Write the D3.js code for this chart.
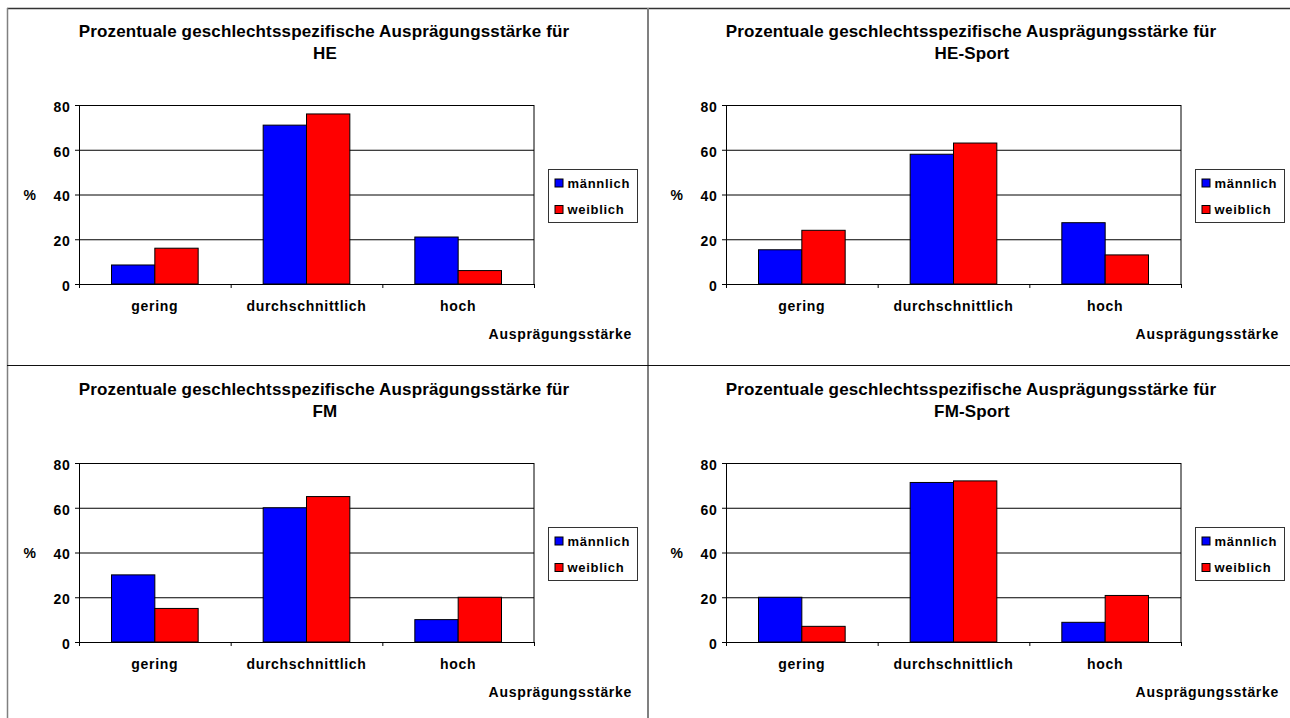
<!DOCTYPE html>
<html>
<head>
<meta charset="utf-8">
<script src="https://cdn.jsdelivr.net/npm/d3@7"></script>
<style>
  html, body { margin: 0; padding: 0; background: #fff; }
  svg { display: block; }
  text { font-family: "Liberation Sans", Arial, sans-serif; font-weight: bold; fill: #000; }
</style>
</head>
<body>
<svg id="chart" width="1290" height="718"></svg>
<script>
// ---- data ----
const categories = ["gering", "durchschnittlich", "hoch"];
const seriesNames = ["männlich", "weiblich"];
const seriesColors = ["#0000FF", "#FF0000"];
const yTicks = [0, 20, 40, 60, 80];
const titlePrefix = "Prozentuale geschlechtsspezifische Ausprägungsstärke für";
const panelNames = ["HE", "HE-Sport", "FM", "FM-Sport"];
const heMaennlich = [8.5, 71, 21];
const heWeiblich = [16, 76, 6];
const heSportMaennlich = [15.3, 58, 27.4];
const heSportWeiblich = [24, 63, 13];
const fmMaennlich = [30, 60, 10];
const fmWeiblich = [15, 65, 20];
const fmSportMaennlich = [20, 71.3, 8.8];
const fmSportWeiblich = [7, 72, 20.8];
const xAxisTitle = "Ausprägungsstärke";
const yAxisTitle = "%";

const panelValues = [
  [heMaennlich, heWeiblich],
  [heSportMaennlich, heSportWeiblich],
  [fmMaennlich, fmWeiblich],
  [fmSportMaennlich, fmSportWeiblich]
];

const svg = d3.select("#chart");

// panel frame lines
const frame = svg.append("g");
frame.append("line").attr("x1", 7).attr("x2", 1290).attr("y1", 8.5).attr("y2", 8.5)
  .attr("stroke", "#333").attr("stroke-width", 1.5);
frame.append("line").attr("x1", 7.5).attr("x2", 7.5).attr("y1", 8).attr("y2", 718)
  .attr("stroke", "#808080").attr("stroke-width", 1.5);
frame.append("line").attr("x1", 648).attr("x2", 648).attr("y1", 8).attr("y2", 718)
  .attr("stroke", "#808080").attr("stroke-width", 2);
frame.append("line").attr("x1", 7).attr("x2", 1290).attr("y1", 365.5).attr("y2", 365.5)
  .attr("stroke", "#111").attr("stroke-width", 1);

const PW = 647, PH = 358;

panelNames.forEach((name, i) => {
  const col = i % 2, row = Math.floor(i / 2);
  const ox = col * PW, oy = row * PH;
  const g = svg.append("g").attr("transform", `translate(${ox},${oy})`);

  const left = 79, right = 534, top = 105, bottom = 284;
  const x = d3.scaleBand().domain(categories).range([left, right]).padding(0);
  const bw = x.bandwidth();
  const groupW = bw * 2 / 3.5;
  const xs = d3.scaleBand().domain(seriesNames).range([(bw - groupW) / 2, (bw + groupW) / 2]).padding(0);
  const y = d3.scaleLinear().domain([0, 80]).range([bottom, top]);
  const xb = d3.scaleLinear().domain([0, categories.length]).range([left, right]);

  // title
  const t = g.append("text").attr("text-anchor", "middle").style("font-size", "17px")
    .style("letter-spacing", "0.15px");
  t.append("tspan").attr("x", 324).attr("y", 36.7).text(titlePrefix);
  t.append("tspan").attr("x", 325).attr("y", 59.3).text(name);

  // gridlines
  g.append("g").attr("transform", `translate(${left},0)`)
    .call(d3.axisLeft(y).tickValues(yTicks.filter(v => v > 0)).tickSize(-(right - left)).tickFormat(""))
    .call(s => s.select(".domain").remove())
    .call(s => s.selectAll("line").attr("stroke", "#000").attr("stroke-width", 1));

  // right border of plot area
  g.append("line").attr("x1", right).attr("x2", right).attr("y1", top).attr("y2", bottom)
    .attr("stroke", "#000");

  // bars
  const vals = panelValues[i];
  const data = [];
  categories.forEach((c, ci) => seriesNames.forEach((s, si) => data.push({ c, s, si, v: vals[si][ci] })));
  g.append("g").selectAll("rect").data(data).join("rect")
    .attr("x", d => x(d.c) + xs(d.s))
    .attr("width", xs.bandwidth())
    .attr("y", d => y(d.v))
    .attr("height", d => y(0) - y(d.v))
    .attr("fill", d => seriesColors[d.si])
    .attr("stroke", "#000").attr("stroke-width", 1);

  // y axis
  g.append("g").attr("transform", `translate(${left},0)`)
    .call(d3.axisLeft(y).tickValues(yTicks).tickSize(4).tickSizeOuter(0).tickPadding(4.5))
    .call(s => s.select(".domain").attr("stroke", "#000"))
    .call(s => s.selectAll("line").attr("stroke", "#000"))
    .call(s => s.selectAll("text").attr("dy", "0.46em").style("font-size", "14px")
      .style("letter-spacing", "0.7px").attr("font-family", null));

  // x axis ticks at boundaries
  g.append("g").attr("transform", `translate(0,${bottom})`)
    .call(d3.axisBottom(xb).tickValues(d3.range(categories.length + 1)).tickSize(4).tickFormat(""))
    .call(s => s.select(".domain").attr("stroke", "#000"))
    .call(s => s.selectAll("line").attr("stroke", "#000"));

  // x axis labels
  g.append("g").attr("transform", `translate(0,${bottom})`)
    .call(d3.axisBottom(x).tickSize(0).tickPadding(17))
    .call(s => s.select(".domain").remove())
    .call(s => s.selectAll("text").style("font-size", "14px").style("letter-spacing", "0.7px")
      .attr("font-family", null));

  // axis titles
  g.append("text").attr("x", 632).attr("y", 339.3).attr("text-anchor", "end")
    .style("font-size", "14px").style("letter-spacing", "0.7px").text(xAxisTitle);
  g.append("text").attr("x", 29.7).attr("y", 200).attr("text-anchor", "middle")
    .style("font-size", "14px").text(yAxisTitle);

  // legend
  const lg = g.append("g").attr("transform", "translate(548.5,169.5)");
  lg.append("rect").attr("width", 89).attr("height", 53).attr("fill", "#fff")
    .attr("stroke", "#333").attr("stroke-width", 1);
  seriesNames.forEach((s, si) => {
    const cy = 13.5 + si * 26.5;
    lg.append("rect").attr("x", 6.5).attr("y", cy - 4).attr("width", 8).attr("height", 8)
      .attr("fill", seriesColors[si]).attr("stroke", "#000");
    lg.append("text").attr("x", 19).attr("y", cy + 4.8).style("font-size", "13px")
      .style("letter-spacing", "0.7px").text(s);
  });
});
</script>
</body>
</html>
